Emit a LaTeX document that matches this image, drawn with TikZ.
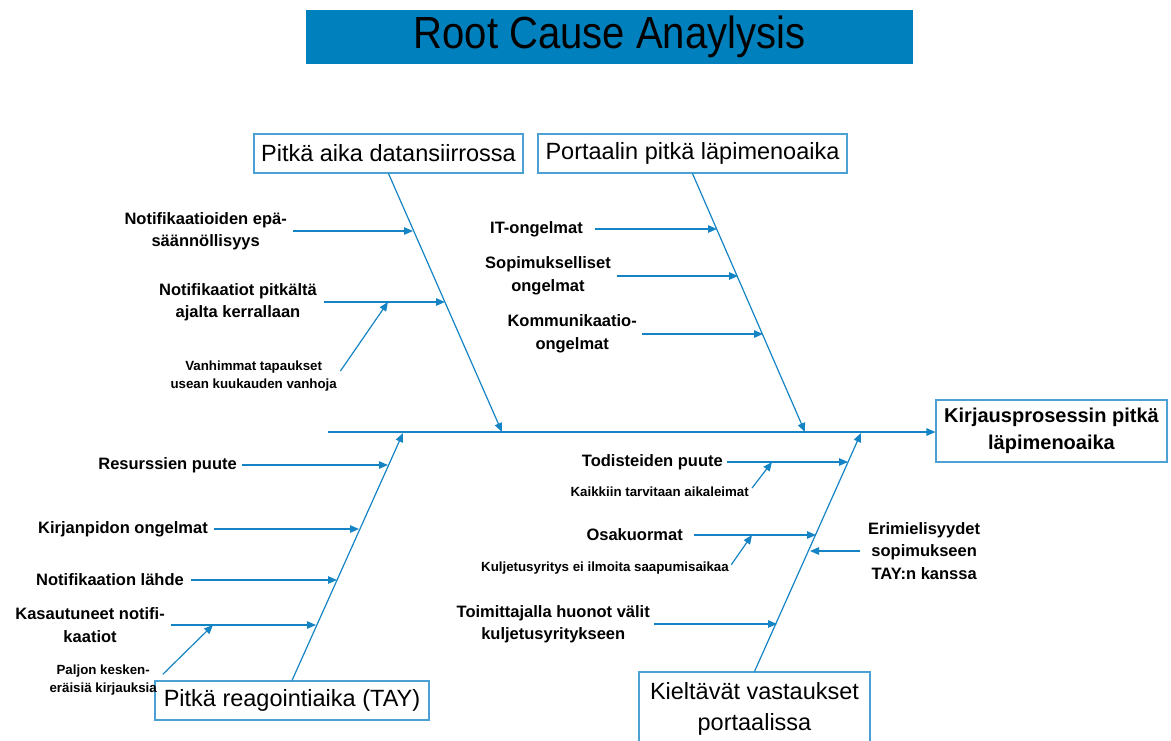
\documentclass[tikz,border=0pt]{standalone}
\usepackage{fontspec}
\setmainfont{Liberation Sans}
\newfontfamily\titlefont[FakeStretch=0.89]{Liberation Sans}
\usetikzlibrary{arrows.meta}
\definecolor{fishblue}{RGB}{20,132,196}
\definecolor{boxblue}{RGB}{75,160,212}
\definecolor{titlefill}{RGB}{0,129,189}
\begin{document}
\begin{tikzpicture}[x=1pt,y=-1pt,
  bone/.style={draw=fishblue, line width=1.2pt},
  arr/.style={bone, -{Triangle[length=9pt,width=7.5pt]}},
  head/.style={draw=boxblue, line width=1.1pt, fill=white, inner sep=0pt,
    font=\fontsize{23.5}{31}\selectfont, align=center},
  goalbox/.style={draw=boxblue, line width=1.1pt, fill=white, inner sep=0pt,
    font=\bfseries\fontsize{20}{27}\selectfont, align=center},
  lab/.style={font=\bfseries\fontsize{16.5}{22.5}\selectfont, align=center, inner sep=0pt},
  note/.style={font=\bfseries\fontsize{13.3}{18}\selectfont, align=center, inner sep=0pt},
]
\useasboundingbox (0,0) rectangle (1171,740);
\clip (0,0) rectangle (1171,740);

% title bar
\node[fill=titlefill, minimum width=607pt, minimum height=54pt, inner sep=0pt,
  font=\titlefont\fontsize{45}{45}\selectfont] (title) at (609.5,37) {Root Cause Anaylysis};

% category boxes and effect box
\node[head, minimum width=269pt, minimum height=39pt] (b1) at (388.5,153.5) {Pitkä aika datansiirrossa};
\node[head, minimum width=309pt, minimum height=39pt] (b2) at (692.5,153.5) {Portaalin pitkä läpimenoaika};
\node[head, minimum width=274pt, minimum height=39pt] (b3) at (292,700.5) {Pitkä reagointiaika (TAY)};
\node[head, minimum width=231pt, minimum height=74pt] (b4) at (754.5,709) {Kieltävät vastaukset\\portaalissa};
\node[goalbox, minimum width=231pt, minimum height=62pt] (goal) at (1051.5,431) {Kirjausprosessin pitkä\\läpimenoaika};

% backbone
\coordinate (tail) at (328,432);
\draw[arr] (tail) -- (tail -| goal.west);

% spine ends on the backbone
\coordinate (m1) at (502,432);
\coordinate (m2) at (805,432);
\coordinate (m3) at (403,433);
\coordinate (m4) at (861,433);
\draw[arr] (b1.south) -- (m1);
\draw[arr] (b2.south) -- (m2);
\draw[arr] (b3.north) -- (m3);
\draw[arr] (b4.north) -- (m4);

% causes: Pitkä aika datansiirrossa
\node[lab, anchor=east] (c1) at (287,231) {Notifikaatioiden epä-\\säännöllisyys};
\node[lab, anchor=east] (c2) at (317,302) {Notifikaatiot pitkältä\\ajalta kerrallaan};
\node[note, anchor=east] (s1) at (337,376) {Vanhimmat tapaukset\\usean kuukauden vanhoja};
\coordinate (t1) at (413,231);
\coordinate (t2) at (445,302);
\coordinate (u1) at (388,302);
\draw[arr, shorten <=6pt] (c1.east) -- (t1);
\draw[arr, shorten <=7pt] (c2.east) -- (t2);
\draw[arr, shorten <=6pt] (s1.east) -- (u1);

% causes: Portaalin pitkä läpimenoaika
\node[lab, anchor=east] (c3) at (583,229) {IT-ongelmat};
\node[lab, anchor=east] (c4) at (611,276) {Sopimukselliset\\ongelmat};
\node[lab, anchor=east] (c5) at (637,334) {Kommunikaatio-\\ongelmat};
\coordinate (t3) at (717,229);
\coordinate (t4) at (738,276);
\coordinate (t5) at (763,334);
\draw[arr, shorten <=12pt] (c3.east) -- (t3);
\draw[arr, shorten <=6pt] (c4.east) -- (t4);
\draw[arr, shorten <=5pt] (c5.east) -- (t5);

% causes: Pitkä reagointiaika (TAY)
\node[lab, anchor=east] (c6) at (237,465) {Resurssien puute};
\node[lab, anchor=east] (c7) at (208,529) {Kirjanpidon ongelmat};
\node[lab, anchor=east] (c8) at (184,580) {Notifikaation lähde};
\node[lab, anchor=east] (c9) at (165,625) {Kasautuneet notifi-\\kaatiot};
\node[note, anchor=east] (s2) at (157,680) {Paljon kesken-\\eräisiä kirjauksia};
\coordinate (t6) at (388,465);
\coordinate (t7) at (359,529);
\coordinate (t8) at (337,580);
\coordinate (t9) at (316,625);
\coordinate (u2) at (213,625);
\draw[arr, shorten <=5pt] (c6.east) -- (t6);
\draw[arr, shorten <=6pt] (c7.east) -- (t7);
\draw[arr, shorten <=7pt] (c8.east) -- (t8);
\draw[arr, shorten <=6pt] (c9.east) -- (t9);
\draw[arr, shorten <=8pt] (s2.east) -- (u2);

% causes: Kieltävät vastaukset portaalissa
\node[lab, anchor=east] (c10) at (723,462) {Todisteiden puute};
\node[note, anchor=east] (s3) at (749,492) {Kaikkiin tarvitaan aikaleimat};
\node[lab, anchor=east] (c11) at (683,535) {Osakuormat};
\node[note, anchor=east] (s4) at (729,568) {Kuljetusyritys ei ilmoita saapumisaikaa};
\node[lab, anchor=east] (c12) at (650,624) {Toimittajalla huonot välit\\kuljetusyritykseen};
\node[lab, anchor=west] (c13) at (868,551) {Erimielisyydet\\sopimukseen\\TAY:n kanssa};
\coordinate (t10) at (848,462);
\coordinate (u3) at (772,462);
\coordinate (t11) at (816,535);
\coordinate (u4) at (752,535);
\coordinate (t12) at (777,624);
\coordinate (t13) at (810,551);
\draw[arr, shorten <=4pt] (c10.east) -- (t10);
\draw[arr, shorten <=5pt] (s3.east) -- (u3);
\draw[arr, shorten <=11pt] (c11.east) -- (t11);
\draw[arr, shorten <=4pt] (s4.east) -- (u4);
\draw[arr, shorten <=4pt] (c12.east) -- (t12);
\draw[arr, shorten <=8pt] (c13.west) -- (t13);
\end{tikzpicture}
\end{document}
